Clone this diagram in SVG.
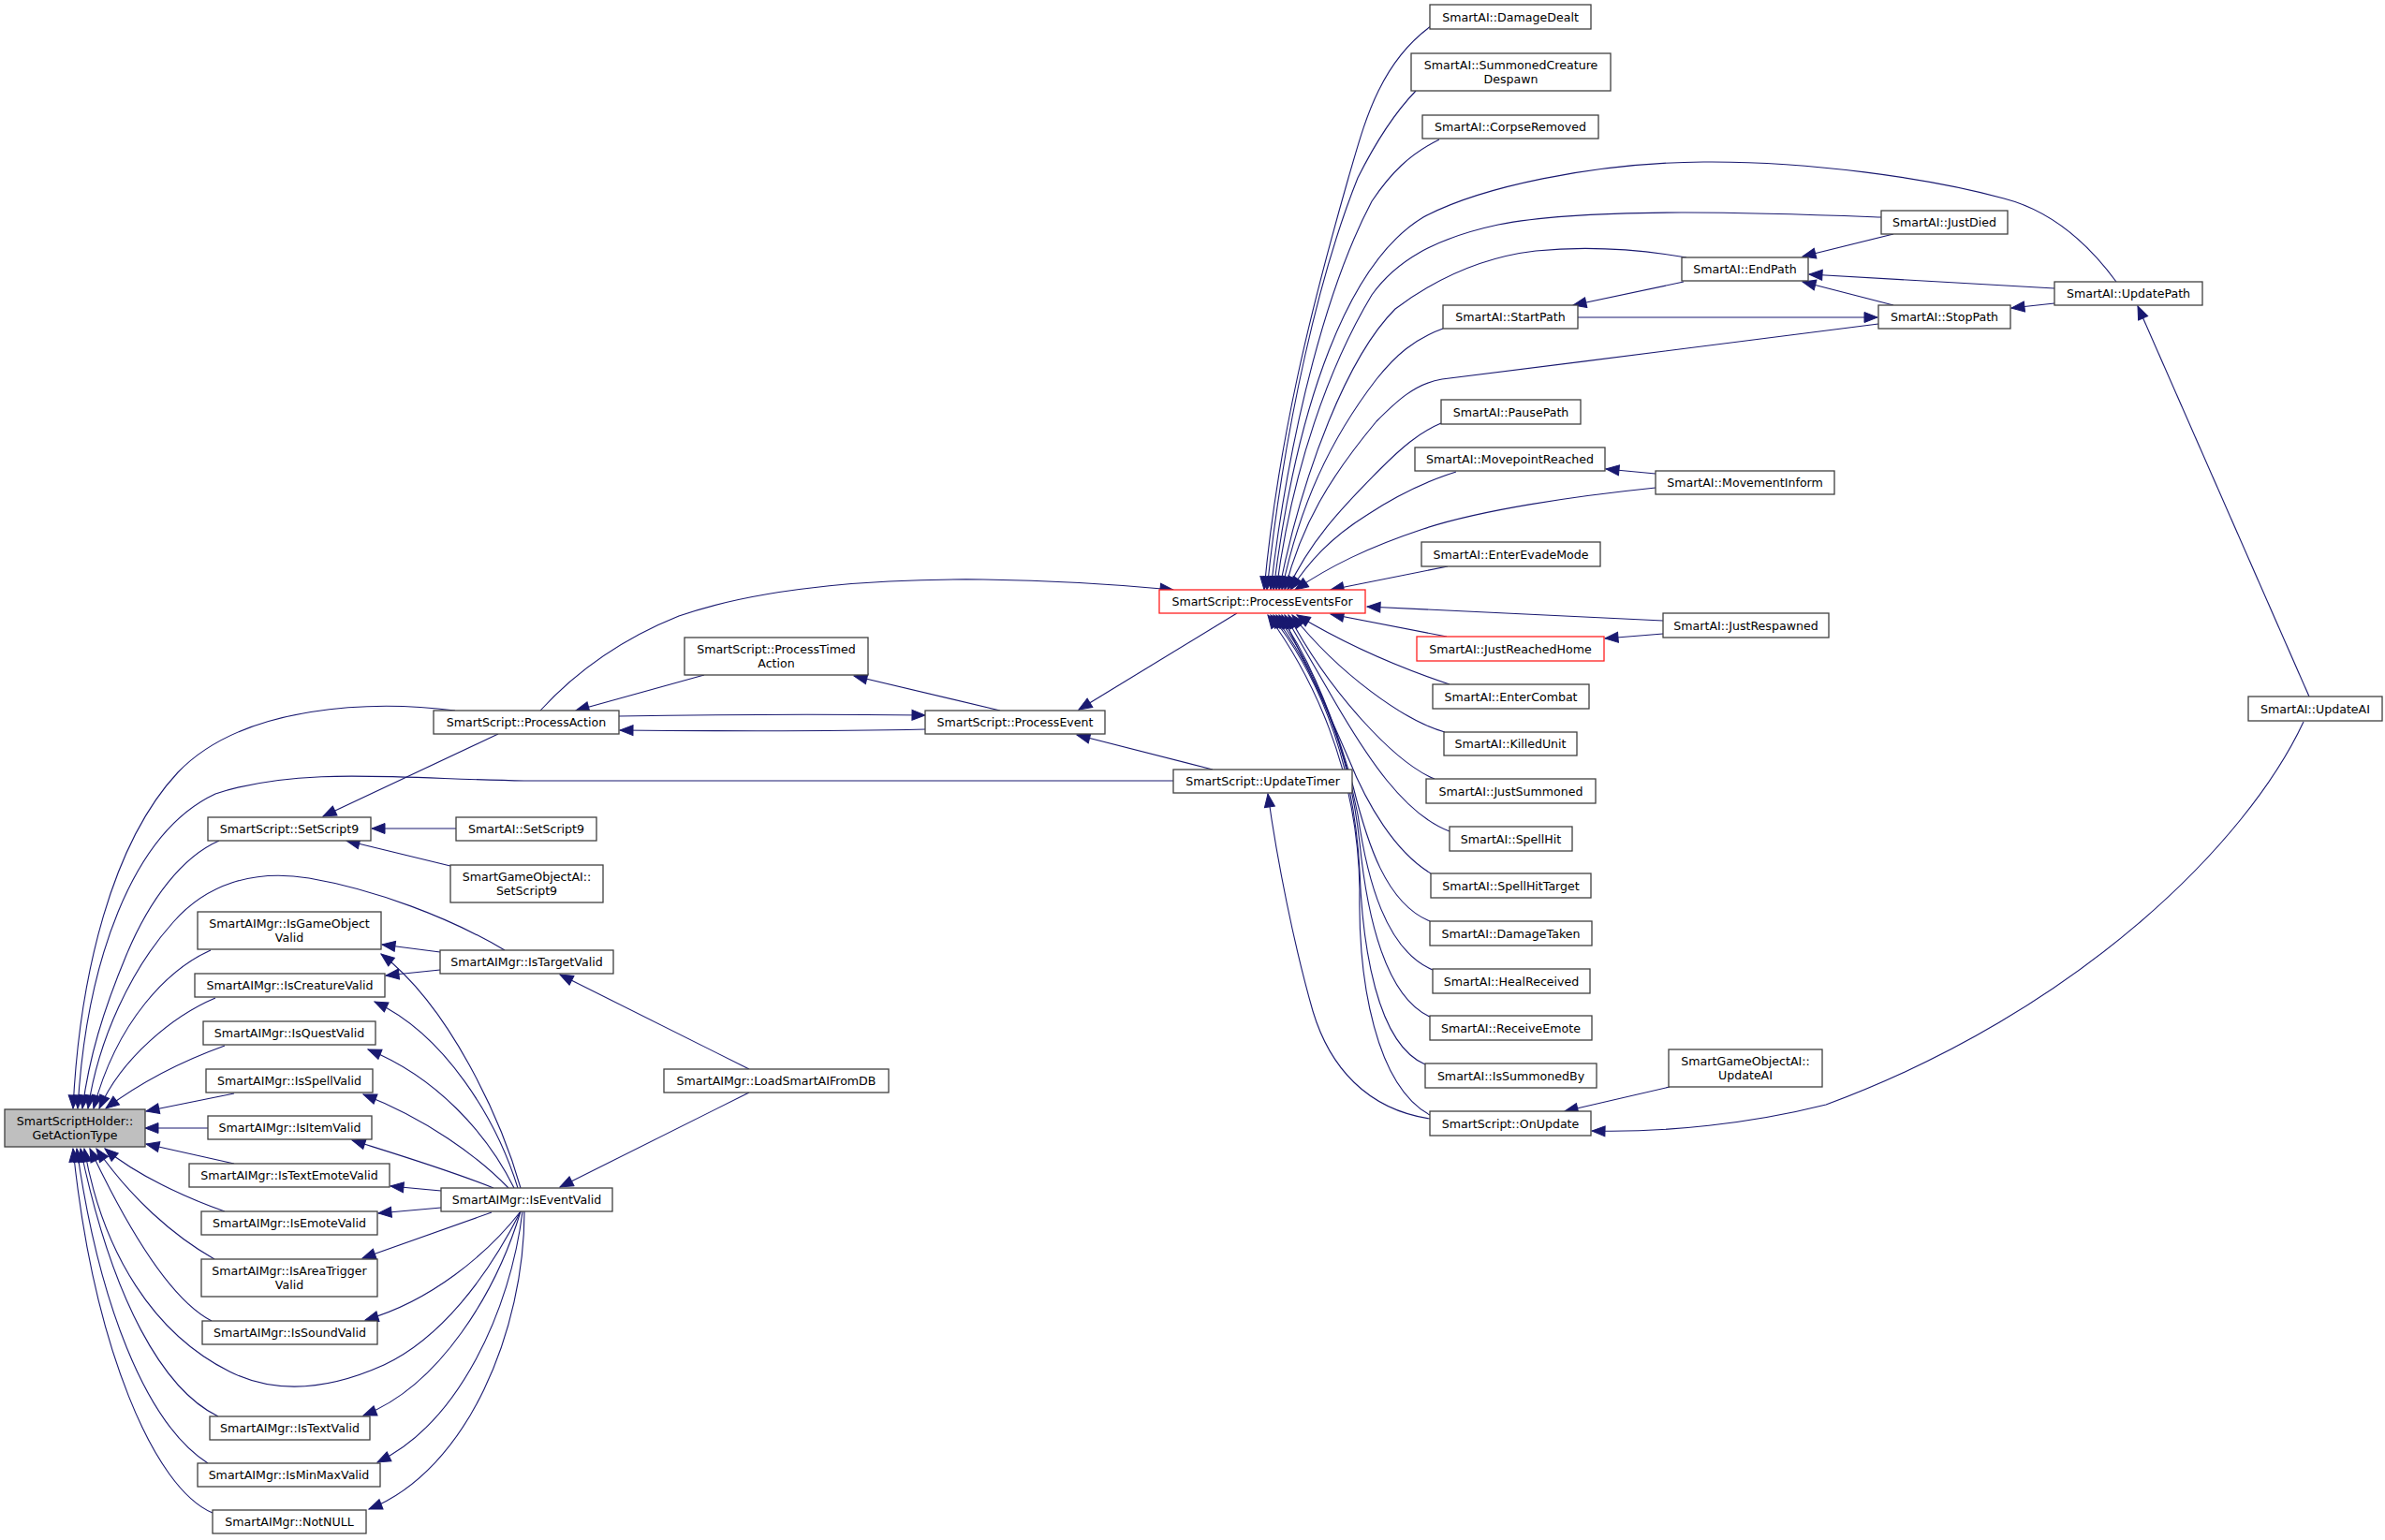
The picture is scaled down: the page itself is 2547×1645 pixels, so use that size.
<svg xmlns="http://www.w3.org/2000/svg" width="2547" height="1645" viewBox="0 0 2547 1645">
<defs>
<style>
.n rect{fill:#fff;stroke:#404040;stroke-width:1.3}
.n.r rect{stroke:#ff2020}
.n.g rect{fill:#bfbfbf}
text{font-family:"DejaVu Sans","Liberation Sans",sans-serif;font-size:12.6px;text-anchor:middle;fill:#000}
#edges path{fill:none;stroke:#191970;stroke-width:1.1;marker-end:url(#a)}
</style>
<marker id="a" markerUnits="userSpaceOnUse" markerWidth="15" markerHeight="12" refX="14" refY="5.5" orient="auto" overflow="visible"><path d="M0,0 L14,5.5 L0,11 z" fill="#191970" stroke="#191970" stroke-width="1"/></marker>
</defs>
<rect width="2547" height="1645" fill="#fff"/>
<g id="edges">
<path d="M486,759 C400,748 260,752 190,825 C120,900 85,1040 78,1184"/>
<path d="M1253,834 L560,834 C430,832 320,818 230,848 C140,890 92,1030 83,1184"/>
<path d="M234,898 C195,915 160,960 135,1020 C110,1080 95,1130 88,1184"/>
<path d="M539,1015 C480,980 400,950 330,938 C270,928 220,945 185,985 C140,1035 105,1110 94,1184"/>
<path d="M225,1015 C180,1035 125,1090 100,1184"/>
<path d="M230,1066 C185,1085 130,1130 106,1184"/>
<path d="M240,1117 C190,1135 145,1160 113,1184"/>
<path d="M250,1168 L156,1187"/>
<path d="M222,1205 L155,1205"/>
<path d="M250,1243 L156,1222"/>
<path d="M240,1294 C200,1280 145,1255 112,1227"/>
<path d="M229,1345 C185,1320 140,1280 103,1227"/>
<path d="M226,1411 C185,1390 140,1320 96,1227"/>
<path d="M556,1294 C520,1365 470,1430 410,1458 C350,1485 295,1490 245,1465 C165,1425 110,1340 90,1227"/>
<path d="M233,1513 C175,1485 120,1390 86,1227"/>
<path d="M222,1563 C155,1520 105,1390 82,1227"/>
<path d="M227,1616 C165,1590 100,1440 78,1227"/>
<path d="M556,1269 C535,1195 480,1075 407,1019"/>
<path d="M553,1269 C530,1195 475,1105 400,1070"/>
<path d="M549,1269 C520,1210 465,1150 393,1121"/>
<path d="M543,1269 C510,1235 455,1195 388,1169"/>
<path d="M527,1269 C480,1250 430,1235 376,1218"/>
<path d="M471,1272 L417,1267"/>
<path d="M471,1290 L404,1296"/>
<path d="M525,1295 L387,1344"/>
<path d="M556,1294 C520,1340 460,1390 390,1410"/>
<path d="M556,1294 C530,1380 470,1480 388,1512"/>
<path d="M558,1294 C545,1400 490,1520 403,1562"/>
<path d="M560,1294 C560,1420 500,1570 394,1612"/>
<path d="M470,1017 L408,1009"/>
<path d="M470,1036 L412,1042"/>
<path d="M800,1142 L598,1041"/>
<path d="M800,1167 L598,1268"/>
<path d="M532,784 L345,872"/>
<path d="M487,885 L397,885"/>
<path d="M481,925 L370,898"/>
<path d="M752,721 L615,759"/>
<path d="M661,765 C780,763 900,763 988,764"/>
<path d="M988,779 C900,781 780,781 662,780"/>
<path d="M1068,759 L912,722"/>
<path d="M577,759 C620,712 670,680 725,658 C820,625 950,618 1050,619 C1120,620 1190,624 1253,630"/>
<path d="M1321,655 L1152,758"/>
<path d="M1295,822 L1150,785"/>
<path d="M1527,1195 C1460,1185 1420,1140 1402,1080 C1382,1010 1364,920 1354,848"/>
<path d="M1528,28 C1470,70 1455,140 1440,190 C1400,330 1365,470 1350,630"/>
<path d="M1512,97 C1485,125 1465,160 1450,190 C1410,290 1372,450 1353,630"/>
<path d="M1537,149 C1505,165 1485,185 1465,215 C1420,300 1378,450 1357,630"/>
<path d="M2260,301 C2230,260 2190,225 2140,212 C2060,190 1930,172 1819,173 C1700,174 1580,200 1520,232 C1440,280 1385,430 1360,630"/>
<path d="M2009,232 C1900,228 1700,220 1600,240 C1530,255 1490,280 1465,315 C1420,390 1380,500 1363,630"/>
<path d="M1801,275 C1760,268 1700,262 1640,268 C1580,275 1530,300 1490,330 C1440,380 1392,500 1366,630"/>
<path d="M1541,351 C1510,362 1490,380 1470,405 C1420,470 1388,540 1369,630"/>
<path d="M2006,346 C1900,360 1700,385 1540,405 C1510,410 1490,430 1470,450 C1420,510 1390,560 1372,630"/>
<path d="M1539,452 C1515,462 1495,480 1475,500 C1430,545 1398,580 1375,630"/>
<path d="M1555,504 C1520,515 1490,530 1460,550 C1420,575 1398,600 1378,630"/>
<path d="M1768,521 C1680,530 1580,545 1520,565 C1460,585 1420,605 1383,630"/>
<path d="M1546,605 L1421,630"/>
<path d="M1776,663 L1460,648"/>
<path d="M1545,680 L1421,656"/>
<path d="M1548,731 C1500,715 1440,690 1385,657"/>
<path d="M1543,782 C1500,770 1430,720 1380,657"/>
<path d="M1532,832 C1490,815 1420,740 1376,657"/>
<path d="M1548,888 C1500,870 1460,810 1420,740 C1400,705 1385,680 1372,657"/>
<path d="M1528,933 C1490,910 1460,860 1440,810 C1410,740 1385,690 1369,657"/>
<path d="M1527,984 C1480,965 1460,900 1445,840 C1420,750 1390,690 1366,657"/>
<path d="M1530,1036 C1480,1015 1460,940 1450,870 C1430,770 1395,700 1363,657"/>
<path d="M1527,1086 C1480,1065 1460,980 1452,900 C1440,790 1400,710 1360,657"/>
<path d="M1522,1137 C1470,1115 1455,1010 1452,930 C1445,800 1400,710 1357,657"/>
<path d="M1527,1191 C1470,1160 1450,1050 1452,950 C1450,820 1400,720 1354,657"/>
<path d="M2022,250 L1925,274"/>
<path d="M2194,308 L1932,293"/>
<path d="M2022,326 L1925,301"/>
<path d="M1798,301 L1680,326"/>
<path d="M1685,339 L2005,339"/>
<path d="M2194,324 L2148,329"/>
<path d="M2466,744 L2283,327"/>
<path d="M1768,506 L1715,501"/>
<path d="M1776,677 L1714,682"/>
<path d="M1783,1161 L1671,1187"/>
<path d="M2460,771 C2400,900 2220,1080 1950,1180 C1870,1200 1780,1210 1700,1208"/>
</g>
<g id="n1" class="n g"><rect x="5" y="1185" width="150" height="40"/><text x="80" y="1202">SmartScriptHolder::</text><text x="80" y="1217">GetActionType</text></g>
<g id="n2" class="n"><rect x="463" y="759" width="198" height="25"/><text x="562" y="776">SmartScript::ProcessAction</text></g>
<g id="n3" class="n"><rect x="222" y="873" width="174" height="25"/><text x="309" y="890">SmartScript::SetScript9</text></g>
<g id="n4" class="n"><rect x="487" y="873" width="150" height="25"/><text x="562" y="890">SmartAI::SetScript9</text></g>
<g id="n5" class="n"><rect x="481" y="924" width="163" height="40"/><text x="562.5" y="941">SmartGameObjectAI::</text><text x="562.5" y="956">SetScript9</text></g>
<g id="n6" class="n"><rect x="211" y="974" width="196" height="40"/><text x="309" y="991">SmartAIMgr::IsGameObject</text><text x="309" y="1006">Valid</text></g>
<g id="n7" class="n"><rect x="470" y="1015" width="185" height="25"/><text x="562.5" y="1032">SmartAIMgr::IsTargetValid</text></g>
<g id="n8" class="n"><rect x="208" y="1040" width="203" height="25"/><text x="309.5" y="1057">SmartAIMgr::IsCreatureValid</text></g>
<g id="n9" class="n"><rect x="217" y="1091" width="184" height="25"/><text x="309" y="1108">SmartAIMgr::IsQuestValid</text></g>
<g id="n10" class="n"><rect x="220" y="1142" width="178" height="25"/><text x="309" y="1159">SmartAIMgr::IsSpellValid</text></g>
<g id="n11" class="n"><rect x="222" y="1192" width="175" height="25"/><text x="309.5" y="1209">SmartAIMgr::IsItemValid</text></g>
<g id="n12" class="n"><rect x="202" y="1243" width="214" height="25"/><text x="309" y="1260">SmartAIMgr::IsTextEmoteValid</text></g>
<g id="n13" class="n"><rect x="215" y="1294" width="188" height="25"/><text x="309" y="1311">SmartAIMgr::IsEmoteValid</text></g>
<g id="n14" class="n"><rect x="215" y="1345" width="188" height="40"/><text x="309" y="1362">SmartAIMgr::IsAreaTrigger</text><text x="309" y="1377">Valid</text></g>
<g id="n15" class="n"><rect x="216" y="1411" width="187" height="25"/><text x="309.5" y="1428">SmartAIMgr::IsSoundValid</text></g>
<g id="n16" class="n"><rect x="224" y="1513" width="171" height="25"/><text x="309.5" y="1530">SmartAIMgr::IsTextValid</text></g>
<g id="n17" class="n"><rect x="211" y="1563" width="195" height="25"/><text x="308.5" y="1580">SmartAIMgr::IsMinMaxValid</text></g>
<g id="n18" class="n"><rect x="227" y="1613" width="164" height="25"/><text x="309" y="1630">SmartAIMgr::NotNULL</text></g>
<g id="n19" class="n"><rect x="471" y="1269" width="183" height="25"/><text x="562.5" y="1286">SmartAIMgr::IsEventValid</text></g>
<g id="n20" class="n"><rect x="709" y="1142" width="240" height="25"/><text x="829" y="1159">SmartAIMgr::LoadSmartAIFromDB</text></g>
<g id="n21" class="n"><rect x="731" y="681" width="196" height="40"/><text x="829" y="698">SmartScript::ProcessTimed</text><text x="829" y="713">Action</text></g>
<g id="n22" class="n"><rect x="988" y="759" width="192" height="25"/><text x="1084" y="776">SmartScript::ProcessEvent</text></g>
<g id="n23" class="n"><rect x="1253" y="822" width="191" height="25"/><text x="1348.5" y="839">SmartScript::UpdateTimer</text></g>
<g id="n24" class="n r"><rect x="1238" y="630" width="220" height="25"/><text x="1348" y="647">SmartScript::ProcessEventsFor</text></g>
<g id="n25" class="n"><rect x="1527" y="5" width="172" height="26"/><text x="1613" y="23">SmartAI::DamageDealt</text></g>
<g id="n26" class="n"><rect x="1507" y="57" width="213" height="40"/><text x="1613.5" y="74">SmartAI::SummonedCreature</text><text x="1613.5" y="89">Despawn</text></g>
<g id="n27" class="n"><rect x="1519" y="123" width="188" height="25"/><text x="1613" y="140">SmartAI::CorpseRemoved</text></g>
<g id="n28" class="n"><rect x="2009" y="225" width="135" height="25"/><text x="2076.5" y="242">SmartAI::JustDied</text></g>
<g id="n29" class="n"><rect x="1796" y="275" width="135" height="25"/><text x="1863.5" y="292">SmartAI::EndPath</text></g>
<g id="n30" class="n"><rect x="1541" y="326" width="144" height="25"/><text x="1613" y="343">SmartAI::StartPath</text></g>
<g id="n31" class="n"><rect x="2006" y="326" width="141" height="25"/><text x="2076.5" y="343">SmartAI::StopPath</text></g>
<g id="n32" class="n"><rect x="2194" y="301" width="158" height="25"/><text x="2273" y="318">SmartAI::UpdatePath</text></g>
<g id="n33" class="n"><rect x="1539" y="427" width="149" height="26"/><text x="1613.5" y="444.5">SmartAI::PausePath</text></g>
<g id="n34" class="n"><rect x="1511" y="478" width="203" height="25"/><text x="1612.5" y="495">SmartAI::MovepointReached</text></g>
<g id="n35" class="n"><rect x="1768" y="503" width="191" height="25"/><text x="1863.5" y="520">SmartAI::MovementInform</text></g>
<g id="n36" class="n"><rect x="1518" y="579" width="191" height="26"/><text x="1613.5" y="596.5">SmartAI::EnterEvadeMode</text></g>
<g id="n37" class="n"><rect x="1776" y="655" width="177" height="26"/><text x="1864.5" y="672.5">SmartAI::JustRespawned</text></g>
<g id="n38" class="n r"><rect x="1513" y="680" width="200" height="26"/><text x="1613" y="697.5">SmartAI::JustReachedHome</text></g>
<g id="n39" class="n"><rect x="1530" y="731" width="167" height="26"/><text x="1613.5" y="748.5">SmartAI::EnterCombat</text></g>
<g id="n40" class="n"><rect x="1542" y="782" width="142" height="25"/><text x="1613" y="799">SmartAI::KilledUnit</text></g>
<g id="n41" class="n"><rect x="1523" y="832" width="181" height="26"/><text x="1613.5" y="849.5">SmartAI::JustSummoned</text></g>
<g id="n42" class="n"><rect x="1548" y="883" width="131" height="26"/><text x="1613.5" y="900.5">SmartAI::SpellHit</text></g>
<g id="n43" class="n"><rect x="1528" y="933" width="171" height="26"/><text x="1613.5" y="950.5">SmartAI::SpellHitTarget</text></g>
<g id="n44" class="n"><rect x="1527" y="984" width="173" height="26"/><text x="1613.5" y="1001.5">SmartAI::DamageTaken</text></g>
<g id="n45" class="n"><rect x="1530" y="1035" width="168" height="26"/><text x="1614" y="1052.5">SmartAI::HealReceived</text></g>
<g id="n46" class="n"><rect x="1527" y="1085" width="173" height="26"/><text x="1613.5" y="1102.5">SmartAI::ReceiveEmote</text></g>
<g id="n47" class="n"><rect x="1522" y="1136" width="183" height="26"/><text x="1613.5" y="1153.5">SmartAI::IsSummonedBy</text></g>
<g id="n48" class="n"><rect x="1527" y="1187" width="172" height="26"/><text x="1613" y="1204.5">SmartScript::OnUpdate</text></g>
<g id="n49" class="n"><rect x="1782" y="1121" width="164" height="40"/><text x="1864" y="1138">SmartGameObjectAI::</text><text x="1864" y="1153">UpdateAI</text></g>
<g id="n50" class="n"><rect x="2401" y="744" width="143" height="26"/><text x="2472.5" y="761.5">SmartAI::UpdateAI</text></g>
</svg>
